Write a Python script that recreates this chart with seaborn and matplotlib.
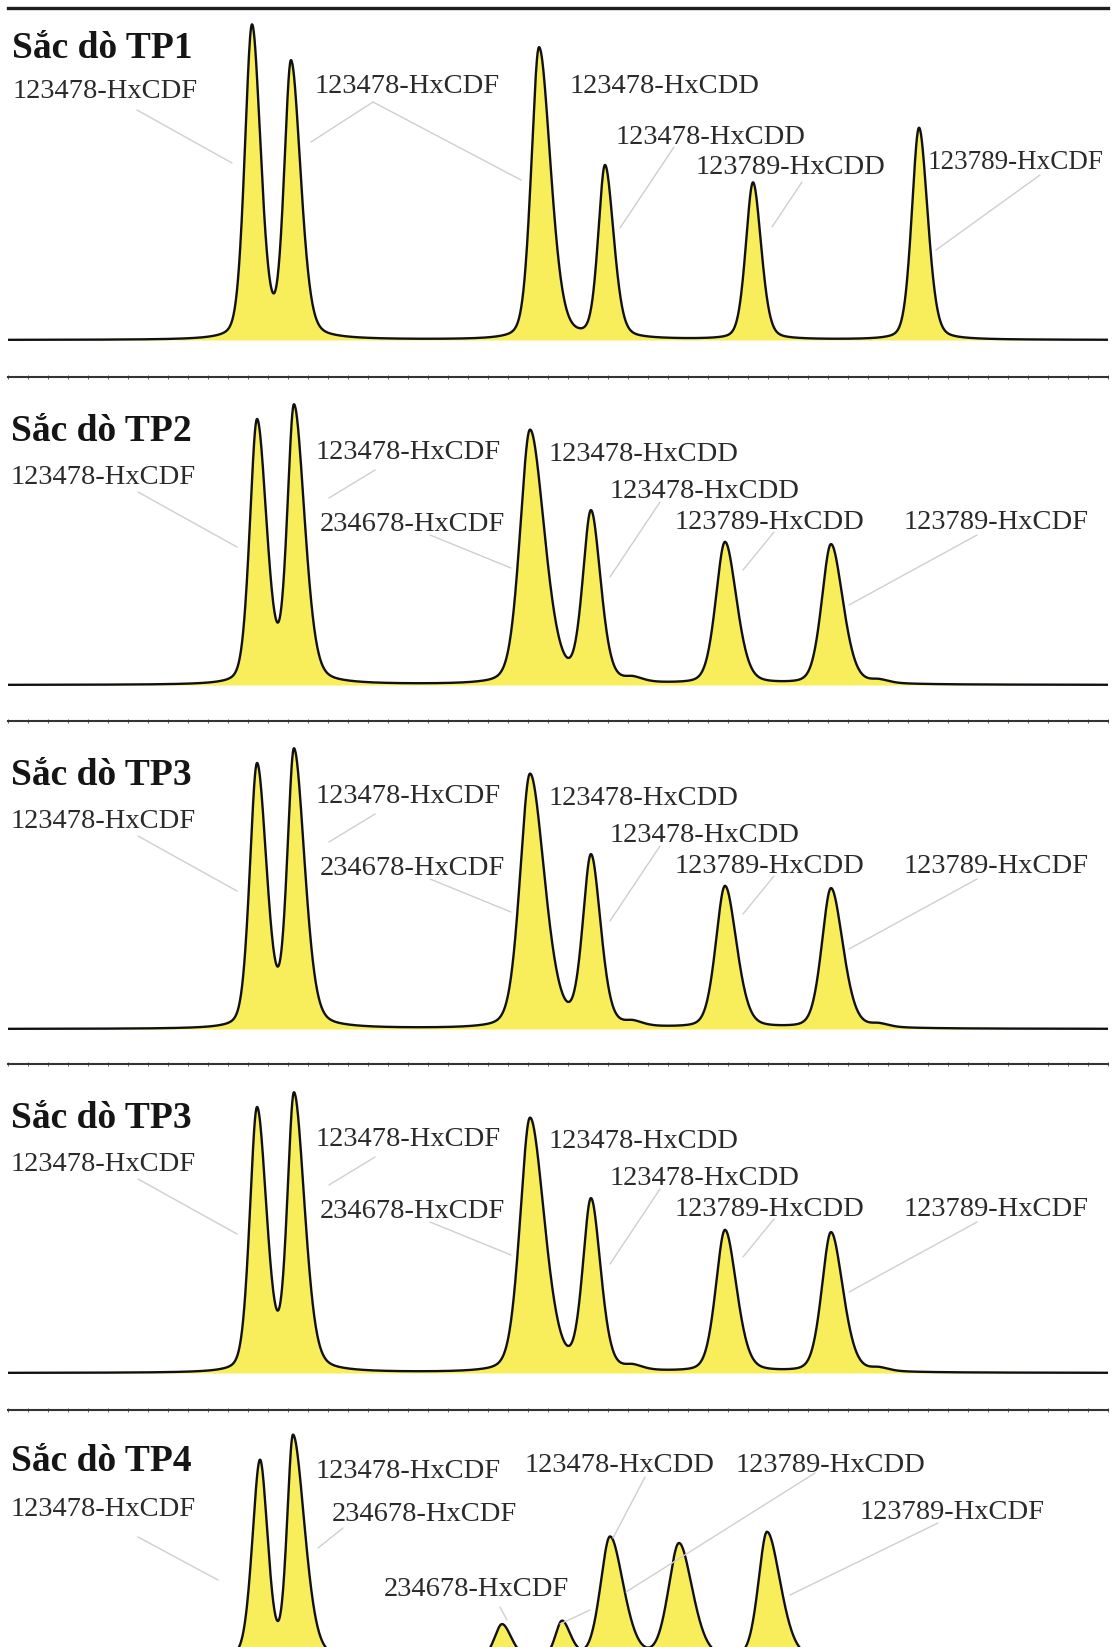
import numpy as np
import pandas as pd
import matplotlib
matplotlib.use("Agg")
import matplotlib.pyplot as plt
import seaborn as sns
from matplotlib.lines import Line2D
from matplotlib.ticker import MultipleLocator

sns.set_theme(style="white")
plt.rcParams['font.family'] = ['Liberation Serif', 'DejaVu Serif']

# ------------------------------------------------------------------ data
panel_titles = ["Sắc dò TP1", "Sắc dò TP2", "Sắc dò TP3", "Sắc dò TP3", "Sắc dò TP4"]

# TP1 chromatogram: retention time (min), height, left / right peak width (min)
tp1_rt = [34.220, 34.415, 35.655, 35.985, 36.725, 37.555]
tp1_height = [313, 275, 292, 172, 157, 212]
tp1_wl = [0.0375, 0.035, 0.040, 0.035, 0.0375, 0.0375]
tp1_wr = [0.045, 0.050, 0.060, 0.045, 0.0425, 0.045]
tp1_labels = ["123478-HxCDF", "123478-HxCDF", "123478-HxCDD",
              "123478-HxCDD", "123789-HxCDD", "123789-HxCDF"]

# TP2 / TP3 chromatograms (identical traces)
tp2_rt = [34.245, 34.430, 35.610, 35.915, 36.125, 36.585, 37.115, 37.355]
tp2_height = [263, 275, 254, 170, 4, 142, 140, 3]
tp2_wl = [0.0375, 0.035, 0.052, 0.0425, 0.040, 0.048, 0.048, 0.040]
tp2_wr = [0.050, 0.055, 0.075, 0.050, 0.050, 0.060, 0.062, 0.050]
tp2_labels = ["123478-HxCDF", "123478-HxCDF", "234678-HxCDF", "123478-HxCDD",
              "123478-HxCDD", "123789-HxCDD", "123789-HxCDF"]

# TP4 chromatogram
tp4_rt = [34.260, 34.425, 35.470, 35.770, 36.010, 36.355, 36.795]
tp4_height = [198, 222, 35, 37, 122, 115, 127]
tp4_wl = [0.040, 0.031, 0.040, 0.035, 0.050, 0.055, 0.045]
tp4_wr = [0.040, 0.060, 0.050, 0.045, 0.070, 0.070, 0.070]
tp4_labels = ["123478-HxCDF", "123478-HxCDF", "234678-HxCDF", "234678-HxCDF",
              "123478-HxCDD", "123789-HxCDD", "123789-HxCDF"]

# ------------------------------------------------------------------ layout
W, H = 1116, 1647
fig = plt.figure(figsize=(W / 100, H / 100), dpi=100)
fig.patch.set_facecolor("white")

def fx(x):
    return x / W

def fy(y):
    return 1 - y / H

# panel frame: top line, baseline, bottom (pixels from top)
panels = [
    dict(top=8, base=340, bottom=377),
    dict(top=377, base=685, bottom=721),
    dict(top=721, base=1029, bottom=1064),
    dict(top=1064, base=1373, bottom=1410),
    dict(top=1410, base=1660, bottom=1647),
]
panel_data = [
    (tp1_rt, tp1_height, tp1_wl, tp1_wr, tp1_labels),
    (tp2_rt, tp2_height, tp2_wl, tp2_wr, tp2_labels),
    (tp2_rt, tp2_height, tp2_wl, tp2_wr, tp2_labels),
    (tp2_rt, tp2_height, tp2_wl, tp2_wr, tp2_labels),
    (tp4_rt, tp4_height, tp4_wl, tp4_wr, tp4_labels),
]

# text positions relative to panel top (x-left, baseline, font size)
lay1 = dict(title=(12, 50),
            labels=[(13, 90, 20.5), (315, 85, 20.5), (570, 85, 20.5), (616, 136, 20.5),
                    (696, 166, 20.5), (928, 161, 19.5)],
            leaders=[((137, 102), (232, 155)), ((373, 94), (311, 134)),
                     ((373, 94), (521, 172)), ((674, 139), (620, 220)),
                     ((802, 174), (772, 219)), ((1040, 167), (936, 242))])
lay2 = dict(title=(11, 64),
            labels=[(11, 107, 20.5), (316, 82, 20.5), (320, 154, 20.5), (549, 84, 20.5),
                    (610, 121, 20.5), (675, 152, 20.5), (904, 152, 20.5)],
            leaders=[((138, 115), (237, 170)), ((375, 93), (329, 121)),
                     ((430, 158), (511, 191)), ((660, 125), (610, 200)),
                     ((774, 155), (743, 193)), ((977, 158), (849, 228))])
lay5 = dict(title=(11, 61),
            labels=[(11, 106, 20.5), (316, 68, 20.5), (332, 111, 20.5), (384, 186, 20.5),
                    (525, 62, 20.5), (736, 62, 20.5), (860, 109, 20.5)],
            leaders=[((138, 127), (218, 170)), ((343, 118), (318, 138)),
                     ((500, 197), (507, 210)), ((590, 200), (560, 214)),
                     ((645, 67), (613, 128)), ((815, 63), (626, 182)),
                     ((938, 113), (790, 185))])
layouts = [lay1, lay2, lay2, lay2, lay5]

t = np.linspace(33.0, 38.5, 3000)
ETA = 0.3


def chromatogram(rt, height, wl, wr):
    y = np.zeros_like(t)
    for r, a, l, rr in zip(rt, height, wl, wr):
        d = t - r
        s = np.where(d < 0, l, rr)
        z = d / s
        y += a * ((1 - ETA) * np.exp(-0.5 * z * z) + ETA / (1 + z * z))
    return y


X0, X1 = 8, 1108
for i, (pn, data, lay, title) in enumerate(zip(panels, panel_data, layouts, panel_titles)):
    top, base, bottom = pn["top"], pn["base"], pn["bottom"]
    ax = fig.add_axes([fx(X0), fy(bottom), fx(X1) - fx(X0), fy(top) - fy(bottom)])
    ax.set_facecolor("none")
    rt, hh, wl, wr, labels = data
    y = chromatogram(rt, hh, wl, wr)
    df = pd.DataFrame({"time": t, "signal": y})
    ax.fill_between(df["time"], 0, df["signal"], color="#F8EE5C", lw=0, zorder=1)
    sns.lineplot(data=df, x="time", y="signal", ax=ax, color="#111111", lw=1.7,
                 estimator=None, sort=False, zorder=3)
    ax.set_xlim(33.0, 38.5)
    ax.set_ylim(-(bottom - base), base - top)
    ax.set_xlabel("")
    ax.set_ylabel("")
    for side in ["left", "right", "bottom"]:
        ax.spines[side].set_visible(False)
    ax.spines["top"].set_visible(True)
    ax.set_yticks([])
    ax.xaxis.set_ticks_position("top")
    ax.xaxis.set_major_locator(MultipleLocator(0.1))
    if i == 0:
        ax.spines["top"].set_linewidth(2.4)
        ax.spines["top"].set_color("#1e1e1e")
        ax.tick_params(axis="x", which="both", top=False, bottom=False, labeltop=False, labelbottom=False)
    else:
        ax.spines["top"].set_linewidth(1.5)
        ax.spines["top"].set_color("#333333")
        ax.tick_params(axis="x", which="major", top=True, bottom=False, labeltop=False,
                       labelbottom=False, direction="inout", length=3, width=0.7, color="#666666")

    # title
    tx, ty = lay["title"]
    fig.text(fx(tx), fy(top + ty), title, ha="left", va="baseline",
             fontsize=27, fontweight="bold", color="#151515")
    # peak labels
    for lab, (lx, ly, fs) in zip(labels, lay["labels"]):
        fig.text(fx(lx), fy(top + ly), lab, ha="left", va="baseline",
                 fontsize=fs, color="#2a2a2a")
    # leader lines
    for (x0, y0), (x1, y1) in lay["leaders"]:
        fig.add_artist(Line2D([fx(x0), fx(x1)], [fy(top + y0), fy(top + y1)],
                              transform=fig.transFigure, color="#cfcfcf", lw=1.0, zorder=2))

fig.savefig("out.png", dpi=100, facecolor="white")
